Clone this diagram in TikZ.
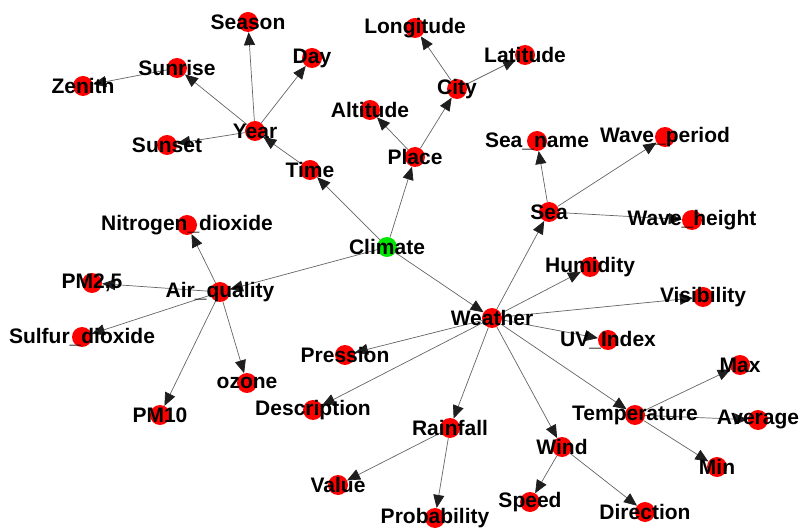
\documentclass[tikz,border=0pt]{standalone}
\usepackage{fontspec}
\setmainfont{Liberation Sans}
\usetikzlibrary{arrows.meta,backgrounds}
\definecolor{VertexRed}{RGB}{255,0,0}
\definecolor{RootGreen}{RGB}{0,230,0}
\definecolor{LinkGray}{RGB}{100,100,100}
\definecolor{TipDark}{RGB}{30,30,30}
\newcommand{\usc}{\symbol{95}}

\tikzset{
  vertex/.style={circle, fill=VertexRed, minimum size=20pt, inner sep=0pt},
  root/.style={vertex, fill=RootGreen},
  tag/.style={font=\fontsize{21}{24}\selectfont\bfseries, inner sep=0pt},
  link/.style={draw=LinkGray, line width=0.7pt,
    -{Triangle[length=13pt,width=11pt,color=TipDark]}}
}

\begin{document}
\begin{tikzpicture}[x=1pt,y=-1pt]
\useasboundingbox (0,0) rectangle (806,529);

% main branches
\node[root] (climate) at (387,247) {};
\node[vertex] (time) at (310,170) {};
\node[vertex] (place) at (415,157) {};
\node[vertex] (weather) at (492,318) {};
\node[vertex] (air) at (220,292) {};

% time
\node[vertex] (year) at (255,131) {};
\node[vertex] (season) at (248,22) {};
\node[vertex] (sunrise) at (177,68) {};
\node[vertex] (zenith) at (83,86) {};
\node[vertex] (day) at (312,58) {};
\node[vertex] (sunset) at (167,145) {};

% place
\node[vertex] (city) at (457,89) {};
\node[vertex] (longitude) at (415,28) {};
\node[vertex] (latitude) at (525,55) {};
\node[vertex] (altitude) at (370,110) {};

% weather
\node[vertex] (sea) at (549,212) {};
\node[vertex] (seaname) at (537,141) {};
\node[vertex] (waveperiod) at (665,137) {};
\node[vertex] (waveheight) at (692,220) {};
\node[vertex] (humidity) at (590,267) {};
\node[vertex] (visibility) at (703,297) {};
\node[vertex] (uvindex) at (608,340) {};
\node[vertex] (pression) at (345,355) {};
\node[vertex] (description) at (313,410) {};
\node[vertex] (rainfall) at (450,428) {};
\node[vertex] (value) at (338,485) {};
\node[vertex] (probability) at (435,518) {};
\node[vertex] (wind) at (562,447) {};
\node[vertex] (speed) at (530,502) {};
\node[vertex] (direction) at (645,512) {};
\node[vertex] (temperature) at (635,415) {};
\node[vertex] (max) at (740,365) {};
\node[vertex] (average) at (758,420) {};
\node[vertex] (min) at (717,467) {};

% air quality
\node[vertex] (nitrogen) at (187,225) {};
\node[vertex] (pm25) at (92,283) {};
\node[vertex] (sulfur) at (82,337) {};
\node[vertex] (ozone) at (247,383) {};
\node[vertex] (pm10) at (160,415) {};

% names on top of the dots
\foreach \n/\t in {climate/Climate, time/Time, place/Place, weather/Weather,
    air/Air\usc quality, year/Year, season/Season, sunrise/Sunrise, zenith/Zenith,
    day/Day, sunset/Sunset, city/City, longitude/Longitude, latitude/Latitude,
    altitude/Altitude, sea/Sea, seaname/Sea\usc name, waveperiod/Wave\usc period,
    waveheight/Wave\usc height, humidity/Humidity, visibility/Visibility,
    uvindex/UV\usc Index, pression/Pression, description/Description,
    rainfall/Rainfall, value/Value, probability/Probability, wind/Wind,
    speed/Speed, direction/Direction, temperature/Temperature, max/Max,
    average/Average, min/Min, nitrogen/Nitrogen\usc dioxide, pm25/{PM2,5},
    sulfur/Sulfur\usc dioxide, ozone/ozone, pm10/PM10}
  \node[tag] (\n-t) at (\n) {\t};

\begin{pgfonlayer}{background}
\foreach \a/\b in {climate/time, climate/place, climate/weather, climate/air,
    time/year, year/season, year/sunrise, year/day, year/sunset, sunrise/zenith,
    place/altitude, place/city, city/longitude, city/latitude,
    weather/sea, sea/seaname, sea/waveperiod, sea/waveheight,
    weather/humidity, weather/visibility, weather/uvindex, weather/temperature,
    weather/wind, weather/rainfall, weather/description, weather/pression,
    rainfall/value, rainfall/probability, wind/speed, wind/direction,
    temperature/max, temperature/average, temperature/min,
    air/nitrogen, air/pm25, air/sulfur, air/ozone, air/pm10}
  \draw[link] (\a) -- (\b);
\end{pgfonlayer}
\end{tikzpicture}
\end{document}
